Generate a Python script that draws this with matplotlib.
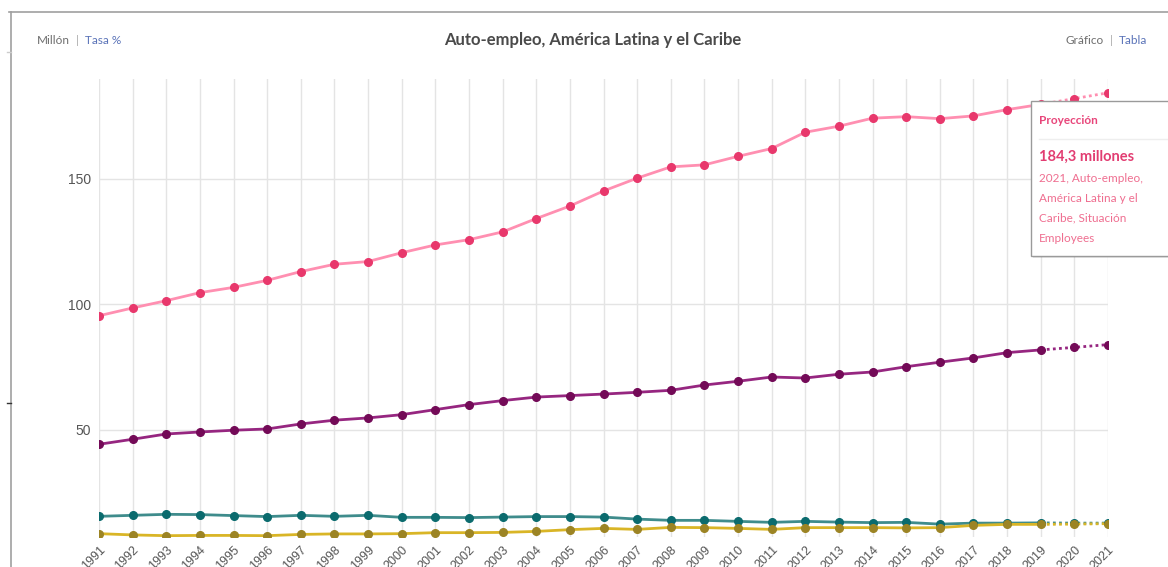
import matplotlib.pyplot as plt
from matplotlib.lines import Line2D
from matplotlib.patches import Rectangle

# series in millions, 1991-2021 (2020-2021 are projections)
years = list(range(1991, 2022))
empleados = [95.5, 98.6, 101.5, 104.7, 106.8, 109.6, 113.1, 116.0, 117.1, 120.6,
             123.7, 125.8, 128.9, 134.2, 139.2, 145.2, 150.3, 154.8, 155.6, 159.0,
             162.1, 168.6, 171.0, 174.2, 174.8, 174.0, 175.1, 177.6, 179.7, 182.0,
             184.3]
cuenta_propia = [44.3, 46.3, 48.4, 49.2, 49.9, 50.4, 52.4, 53.9, 54.8, 56.1,
                 58.1, 60.1, 61.7, 63.1, 63.7, 64.3, 65.0, 65.8, 67.9, 69.4,
                 71.1, 70.7, 72.2, 73.1, 75.2, 77.0, 78.7, 80.8, 81.9, 82.9,
                 84.0]
empleadores = [15.6, 16.0, 16.4, 16.3, 15.9, 15.5, 16.0, 15.6, 16.0, 15.2,
               15.2, 15.1, 15.3, 15.5, 15.5, 15.3, 14.5, 14.0, 14.0, 13.6,
               13.2, 13.6, 13.3, 13.1, 13.2, 12.5, 12.9, 12.9, 13.0, 12.9,
               12.9]
familiares = [8.7, 8.2, 7.9, 8.0, 8.0, 7.9, 8.4, 8.6, 8.6, 8.7,
              9.1, 9.1, 9.2, 9.6, 10.3, 10.8, 10.4, 11.2, 11.1, 10.8,
              10.4, 11.1, 11.1, 11.1, 11.0, 11.1, 12.0, 12.4, 12.4, 12.5,
              12.7]
ultimo_real = 2019
yticks = [50, 100, 150]

series = [
    (empleados, '#ff8fb1', '#e8386c'),
    (cuenta_propia, '#962680', '#730a57'),
    (empleadores, '#3f8c8c', '#0b6b6e'),
    (familiares, '#d9b526', '#9c8424'),
]

W, H = 1168, 567
fig = plt.figure(figsize=(W / 100, H / 100), dpi=100)
ax = fig.add_axes([99 / W, 30 / H, 1009 / W, 458 / H])

k = years.index(ultimo_real) + 1
for vals, lc, mc in series:
    ax.plot(years[:k], vals[:k], color=lc, lw=2, zorder=3, solid_capstyle='round')
    ax.plot(years[k - 1:], vals[k - 1:], color=lc, lw=2, ls=(0, (1, 1.2)), zorder=3)
    ax.plot(years, vals, ls='none', marker='o', ms=5.5, color=mc, mec=mc, zorder=4)

ax.set_xlim(1991, 2021)
ax.set_ylim(7.37, 189.8)
ax.set_xticks(years)
ax.set_yticks(yticks)
ax.set_xticklabels([str(y) for y in years], rotation=45, ha='right',
                   rotation_mode='anchor', fontsize=9, color='#555555',
                   family='Liberation Sans')
ax.set_yticklabels([str(v) for v in yticks], fontsize=10, color='#555555',
                   family='Liberation Sans')
ax.tick_params(axis='both', length=0)
ax.tick_params(axis='x', pad=5)
ax.tick_params(axis='y', pad=6)
ax.grid(True, color='#e4e4e4', lw=1)
ax.set_axisbelow(True)
for s in ax.spines.values():
    s.set_visible(False)

# page frame around the widget
fig.add_artist(Line2D([9 / W, 1], [1 - 12 / H] * 2, color='#a0a0a0', lw=1.2))
fig.add_artist(Line2D([11 / W] * 2, [0, 1 - 12 / H], color='#a0a0a0', lw=1.2))
fig.add_artist(Line2D([7 / W, 11 / W], [1 - 403 / H] * 2, color='#333333', lw=1))
fig.add_artist(Line2D([7 / W, 11 / W], [1 - 52 / H] * 2, color='#cccccc', lw=1))

# header
hy = 1 - 40 / H
fig.text(37 / W, hy, 'Millón', fontsize=8.5, color='#6d6d6d', family='Lato', va='center')
fig.text(76 / W, hy, '|', fontsize=8.5, color='#b0b0b0', family='Lato', va='center')
fig.text(85 / W, hy, 'Tasa %', fontsize=8.5, color='#5a73b8', family='Lato', va='center')
fig.text(593 / W, hy, 'Auto-empleo, América Latina y el Caribe', fontsize=12,
         fontweight='bold', color='#4a4a4a', family='Lato', ha='center', va='center')
fig.text(1066 / W, hy, 'Gráfico', fontsize=8.5, color='#6d6d6d', family='Lato', va='center')
fig.text(1110 / W, hy, '|', fontsize=8.5, color='#b0b0b0', family='Lato', va='center')
fig.text(1119 / W, hy, 'Tabla', fontsize=8.5, color='#5a73b8', family='Lato', va='center')

# tooltip
x0, y0, y1 = 1031, 101, 256
fig.add_artist(Rectangle((x0 / W + 2 / W, 1 - (y1 + 2) / H), 200 / W, (y1 - y0) / H,
                         transform=fig.transFigure, facecolor='#00000018',
                         edgecolor='none', zorder=9))
fig.add_artist(Rectangle((x0 / W, 1 - y1 / H), 200 / W, (y1 - y0) / H,
                         transform=fig.transFigure, facecolor='white',
                         edgecolor='#9a9a9a', lw=1, zorder=10))
fig.add_artist(Line2D([1039 / W, 1], [1 - 139 / H] * 2, color='#eeeeee', lw=1, zorder=11))
tx = 1039 / W
fig.text(tx, 1 - 120 / H, 'Proyección', fontsize=8.5, fontweight='bold',
         color='#e8457a', family='Lato', va='center', zorder=12)
fig.text(tx, 1 - 157 / H, f'{empleados[-1]:.1f}'.replace('.', ',') + ' millones',
         fontsize=10.5, fontweight='bold', color='#e23d72', family='Lato',
         va='center', zorder=12)
for i, line in enumerate(['2021, Auto-empleo,', 'América Latina y el',
                          'Caribe, Situación', 'Employees']):
    fig.text(tx, 1 - (178 + 20 * i) / H, line, fontsize=8.5, color='#ef6e90',
             family='Lato', va='center', zorder=12)

fig.savefig('out.png', dpi=100)
